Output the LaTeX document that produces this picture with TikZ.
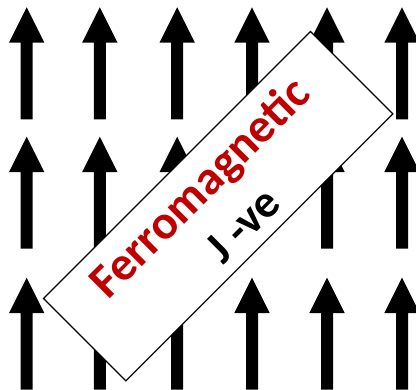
\documentclass[tikz,border=0pt]{standalone}
\usepackage{fontspec}
\setmainfont{Carlito}
\definecolor{ferrored}{HTML}{C00000}
\begin{document}
\begin{tikzpicture}[x=1pt,y=1pt,
  spinarrow/.style={fill=black,draw=none},
  framebox/.style={draw=black,line width=1.2pt,fill=white,minimum width=377.5pt,minimum height=116.6pt,inner sep=0pt,rotate=45},
  lbl/.style={font=\bfseries\fontsize{48}{48}\selectfont,inner sep=0pt,anchor=base,rotate=45}]
\useasboundingbox (0,0) rectangle (416,390);
\foreach \x in {26.7,99.8,177.2,252,327,402}{
  \foreach \t in {382.7,253.3,112.3}{
    \fill[spinarrow] (\x,\t) -- (\x+17.7,\t-35.4) -- (\x+6,\t-35.4) -- (\x+6,\t-112) -- (\x-6,\t-112) -- (\x-6,\t-35.4) -- (\x-17.7,\t-35.4) -- cycle;
  }}
\node[framebox] (frame) at (218.2,183.8) {};
\begin{scope}[shift={(frame.center)},rotate=45]
  \node[lbl,text=ferrored] (ferro) at (0,11) {Ferromagnetic};
  \node[lbl,text=black,font=\bfseries\fontsize{46}{46}\selectfont] (jve) at (4,-46) {J -ve};
\end{scope}
\end{tikzpicture}
\end{document}
